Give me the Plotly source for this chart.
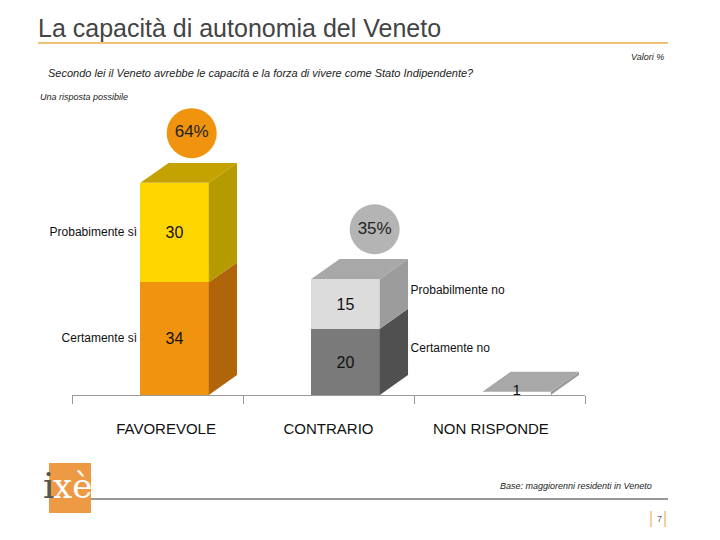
import plotly.graph_objects as go

categories = ["FAVOREVOLE", "CONTRARIO", "NON RISPONDE"]
lower_vals = [34, 20, 1]
upper_vals = [30, 15, 0]
totals = ["64%", "35%", ""]
lower_names = ["Certamente sì", "Certamente no", ""]
upper_names = ["Probabimente sì", "Probabilmente no", ""]

front_lo = ["#F0930F", "#7A7A7A", "#FFFFFF"]
side_lo = ["#B0650A", "#505050", "#9A9A9A"]
front_hi = ["#FFD700", "#DCDCDC", "#FFFFFF"]
side_hi = ["#B59A00", "#9C9C9C", "#9A9A9A"]
top_col = ["#C4A200", "#A8A8A8", "#A8A8A8"]
bubble_col = ["#F0930F", "#B4B4B4"]
bubble_dx = [0.1, 0.17]

W = 0.4    # bar width (x units)
DX = 0.165  # depth offset x
DY = 6.0    # depth offset y
SHIFT = 0.1
OFF = 8  # page offset in the screenshot


def px(x):
    return (x - OFF) / 720


def py(y):
    return 1 - (y - OFF) / 540


fig = go.Figure()


def poly(xs, ys, color):
    fig.add_trace(go.Scatter(x=xs + [xs[0]], y=ys + [ys[0]], fill="toself", fillcolor=color,
                             line=dict(width=0), mode="lines", hoverinfo="skip", showlegend=False))


for i, cat in enumerate(categories):
    c = i + SHIFT
    l, r = c - W / 2, c + W / 2
    lo, hi = lower_vals[i], upper_vals[i]
    top = lo + hi
    poly([r, r + DX, r + DX, r], [0, DY, lo + DY, lo], side_lo[i])
    if hi:
        poly([r, r + DX, r + DX, r], [lo, lo + DY, top + DY, top], side_hi[i])
    poly([l, l + DX, r + DX, r], [top, top + DY, top + DY, top], top_col[i])

fig.add_trace(go.Bar(x=[i + SHIFT for i in range(2)], y=lower_vals[:2], width=W, marker_color=front_lo[:2],
                     marker_line_width=0, text=[str(v) for v in lower_vals[:2]], textposition="inside",
                     insidetextanchor="middle", textfont=dict(size=16, color="#111"), showlegend=False))
fig.add_trace(go.Bar(x=[i + SHIFT for i in range(2)], y=upper_vals[:2], width=W, marker_color=front_hi[:2],
                     marker_line_width=0, text=[str(v) for v in upper_vals[:2]], textposition="inside",
                     insidetextanchor="middle", textfont=dict(size=16, color="#111"), showlegend=False))
# NON RISPONDE: thin white slab with its value
fig.add_trace(go.Bar(x=[2 + SHIFT], y=[lower_vals[2]], width=W, marker_color=front_lo[2],
                     marker_line_width=0, showlegend=False, hoverinfo="skip"))
fig.add_trace(go.Scatter(x=[2 + SHIFT], y=[lower_vals[2]], mode="text", text=[str(lower_vals[2])],
                         textposition="middle center", textfont=dict(size=15, color="#111"),
                         cliponaxis=False, hoverinfo="skip", showlegend=False))

for i in range(2):
    t = lower_vals[i] + upper_vals[i]
    fig.add_trace(go.Scatter(x=[i + SHIFT + bubble_dx[i]], y=[t + 15], mode="markers+text", text=[totals[i]],
                             textposition="middle center", textfont=dict(size=17, color="#222"),
                             marker=dict(size=50, color=bubble_col[i]), cliponaxis=False,
                             hoverinfo="skip", showlegend=False))

for i in range(2):
    lo, hi = lower_vals[i], upper_vals[i]
    if i == 0:
        xs, pos = SHIFT - W / 2 - 0.02, "middle left"
        ys = [lo / 2, lo + hi / 2]
    else:
        xs, pos = i + SHIFT + W / 2 + DX + 0.015, "middle right"
        ys = [lo * 0.7, lo + hi * 0.75]
    fig.add_trace(go.Scatter(x=[xs, xs], y=ys, mode="text", text=[lower_names[i], upper_names[i]],
                             textposition=pos, textfont=dict(size=12, color="#111"), cliponaxis=False,
                             hoverinfo="skip", showlegend=False))

fig.update_layout(
    width=720, height=540, margin=dict(l=0, r=0, t=0, b=0),
    paper_bgcolor="white", plot_bgcolor="rgba(0,0,0,0)", barmode="stack", bargap=0,
    font=dict(family="Liberation Sans, Arial", color="#222"),
    xaxis=dict(domain=[px(72), px(585)], range=[-0.5, 2.5], tickvals=[0.05, 1.0, 1.95],
               ticktext=categories, showgrid=False, zeroline=False, showline=True,
               linecolor="#999", tickfont=dict(size=15, color="#111"), ticks="", ticklen=0,
               ticklabelstandoff=20, anchor="y", fixedrange=True),
    xaxis2=dict(domain=[px(72), px(585)], range=[-0.5, 2.5], overlaying="x", anchor="y",
                tickvals=[-0.5, 0.5, 1.5, 2.5], showticklabels=False, ticks="outside", ticklen=8,
                tickcolor="#999", showgrid=False, zeroline=False, side="bottom"),
    yaxis=dict(domain=[py(395), py(100)], range=[0, 89], visible=False),
)
fig.add_trace(go.Scatter(x=[-0.5], y=[0], xaxis="x2", mode="markers", marker=dict(opacity=0),
                         hoverinfo="skip", showlegend=False))

fig.add_annotation(text="La capacità di autonomia del Veneto", xref="paper", yref="paper", x=px(36),
                   y=py(28), xanchor="left", yanchor="middle", showarrow=False,
                   font=dict(size=25, color="#444"))
fig.add_shape(type="line", xref="paper", yref="paper", x0=px(38), x1=px(668), y0=py(43),
              y1=py(43), line=dict(color="#EFC27A", width=2))
fig.add_annotation(text="<i>Valori %</i>", xref="paper", yref="paper", x=px(666), y=py(50),
                   xanchor="right", showarrow=False, font=dict(size=9))
fig.add_annotation(text="<i>Secondo lei il Veneto avrebbe le capacità e la forza di vivere come Stato Indipendente?</i>",
                   xref="paper", yref="paper", x=px(46), y=py(65), xanchor="left",
                   showarrow=False, font=dict(size=11))
fig.add_annotation(text="<i>Una risposta possibile</i>", xref="paper", yref="paper", x=px(38),
                   y=py(90), xanchor="left", showarrow=False, font=dict(size=9))
fig.add_annotation(text="<i>Base: maggiorenni residenti in Veneto</i>", xref="paper", yref="paper",
                   x=px(654), y=py(493), xanchor="right", showarrow=False, font=dict(size=9))
fig.add_shape(type="rect", xref="paper", yref="paper", x0=px(49), x1=px(91), y0=py(513),
              y1=py(463), fillcolor="#EE9A45", line_width=0, layer="below")
fig.add_annotation(text="i", xref="paper", yref="paper", x=px(49), y=py(508), xanchor="center",
                   showarrow=False, font=dict(size=36, color="#555", family="DejaVu Serif"))
fig.add_annotation(text="xè", xref="paper", yref="paper", x=px(72), y=py(508), xanchor="center",
                   showarrow=False, font=dict(size=34, color="white", family="DejaVu Serif"))
fig.add_shape(type="line", xref="paper", yref="paper", x0=px(91), x1=px(668), y0=py(499),
              y1=py(499), line=dict(color="#999", width=2))
for xp in [651, 665]:
    fig.add_shape(type="line", xref="paper", yref="paper", x0=px(xp), x1=px(xp), y0=py(527),
                  y1=py(511), line=dict(color="#EE9A45", width=1))
fig.add_annotation(text="7", xref="paper", yref="paper", x=px(664), y=py(526), showarrow=False,
                   font=dict(size=9, color="#666"))

fig.write_html("out.html")
